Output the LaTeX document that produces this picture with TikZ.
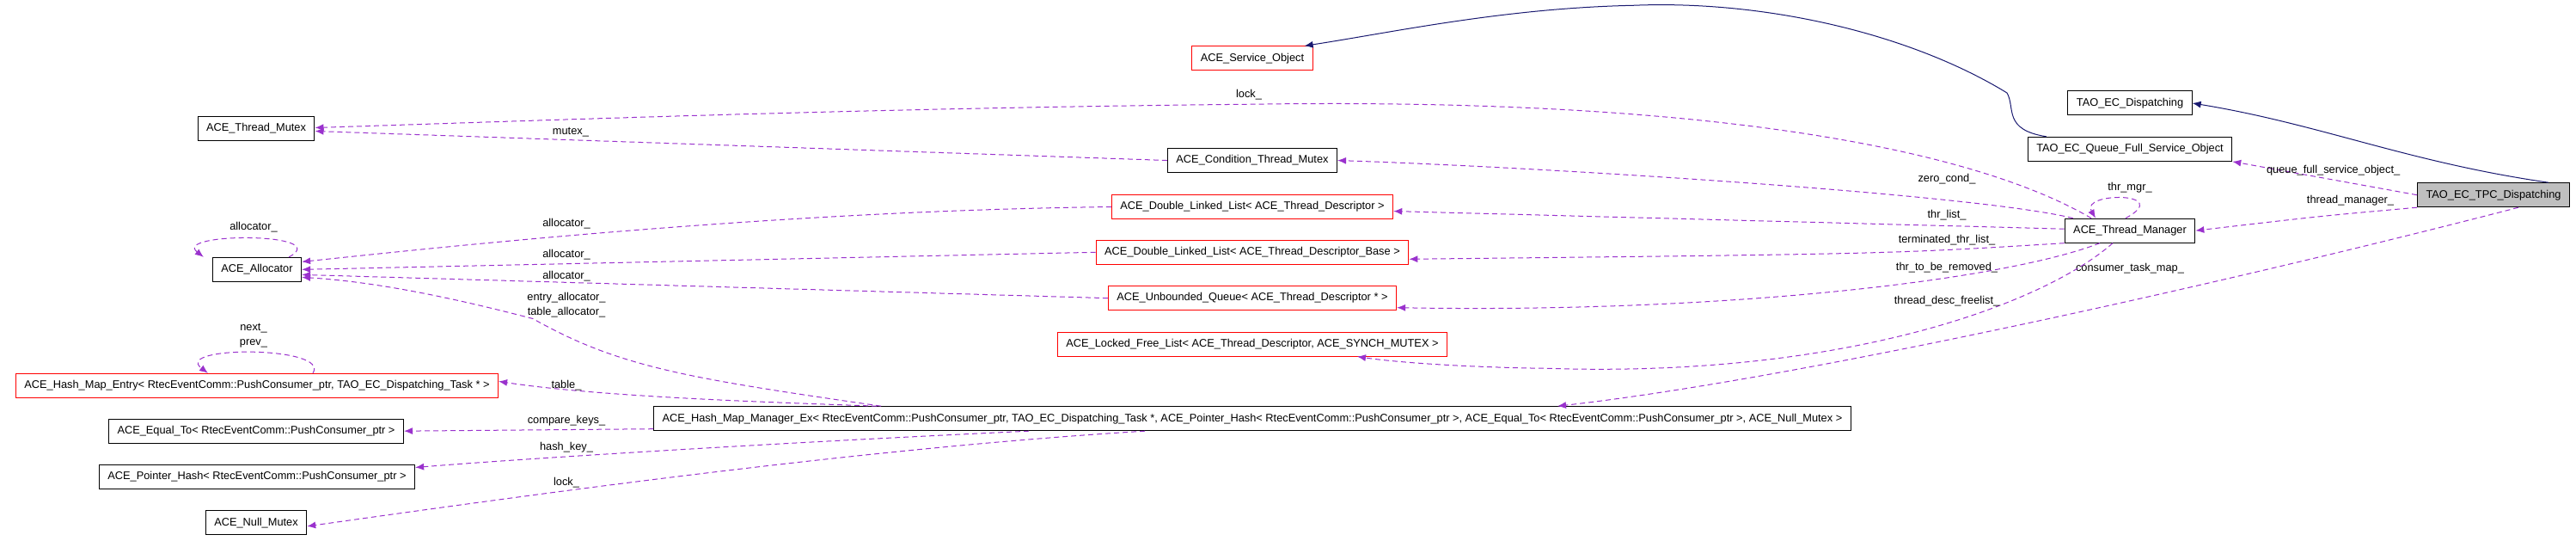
\documentclass[tikz,border=0pt]{standalone}
\usepackage{fontspec}
\setmainfont{Liberation Sans}
\usetikzlibrary{arrows.meta}
\definecolor{pur}{HTML}{9A32CD}
\definecolor{nav}{HTML}{191970}
\tikzset{
 cls/.style={draw=black,line width=1pt,minimum height=28pt,inner xsep=10pt,inner ysep=0pt,font=\fontsize{12.8}{14}\selectfont,fill=white},
 redc/.style={cls,draw=red},
 use/.style={draw=pur,line width=1pt,dash pattern=on 6pt off 4pt,-{Latex[length=10pt,width=8pt]}},
 inh/.style={draw=nav,line width=1pt,-{Latex[length=10pt,width=8pt]}},
 lab/.style={font=\fontsize{12.8}{14}\selectfont,inner sep=0pt}
}
\begin{document}
\begin{tikzpicture}[x=1pt,y=-0.628pt]
\useasboundingbox (0,0) rectangle (2997,1000);
% nodes
\node[cls] (tm) at (298,238) {ACE\_Thread\_Mutex};
\node[cls] (al) at (299,499) {ACE\_Allocator};
\node[redc] (hme) at (299,714) {ACE\_Hash\_Map\_Entry< RtecEventComm::PushConsumer\_ptr, TAO\_EC\_Dispatching\_Task * >};
\node[cls] (eq) at (298,798) {ACE\_Equal\_To< RtecEventComm::PushConsumer\_ptr >};
\node[cls] (ph) at (299,883) {ACE\_Pointer\_Hash< RtecEventComm::PushConsumer\_ptr >};
\node[cls] (nm) at (298,968) {ACE\_Null\_Mutex};
\node[cls] (hmm) at (1457,775) {ACE\_Hash\_Map\_Manager\_Ex< RtecEventComm::PushConsumer\_ptr, TAO\_EC\_Dispatching\_Task *, ACE\_Pointer\_Hash< RtecEventComm::PushConsumer\_ptr >, ACE\_Equal\_To< RtecEventComm::PushConsumer\_ptr >, ACE\_Null\_Mutex >};
\node[redc] (so) at (1457,108) {ACE\_Service\_Object};
\node[cls] (ctm) at (1457,297) {ACE\_Condition\_Thread\_Mutex};
\node[redc] (dl1) at (1457,383) {ACE\_Double\_Linked\_List< ACE\_Thread\_Descriptor >};
\node[redc] (dl2) at (1457,467) {ACE\_Double\_Linked\_List< ACE\_Thread\_Descriptor\_Base >};
\node[redc] (uq) at (1457,552) {ACE\_Unbounded\_Queue< ACE\_Thread\_Descriptor * >};
\node[redc] (lfl) at (1457,637) {ACE\_Locked\_Free\_List< ACE\_Thread\_Descriptor, ACE\_SYNCH\_MUTEX >};
\node[cls] (ed) at (2478,191) {TAO\_EC\_Dispatching};
\node[cls] (qf) at (2478,276) {TAO\_EC\_Queue\_Full\_Service\_Object};
\node[cls] (thm) at (2478,427) {ACE\_Thread\_Manager};
\node[cls,fill=black!25] (tpc) at (2901,361) {TAO\_EC\_TPC\_Dispatching};
% inheritance
\draw[inh] ([xshift=-25pt]tpc.north east) .. controls (2800,300) and (2700,230) .. (ed.east);
\draw[inh] ([xshift=22pt]qf.north west) .. controls (2330,240) and (2345,200) .. (2335,172) .. controls (2220,60) and (2050,0) .. (1900,10) .. controls (1750,15) and (1620,60) .. ([xshift=-10pt]so.north east);
% uses
\draw[use] (tpc.west) -- (qf.south east) node[pos=0.5,lab,above=3pt,xshift=10pt] {queue\_full\_service\_object\_};
\draw[use] (tpc.south west) .. controls (2700,400) .. (thm.east) node[pos=0.3,lab,above=9pt] {thread\_manager\_};
\draw[use] ([xshift=-60pt]tpc.south east) .. controls (2600,520) and (2100,700) .. ([xshift=355pt]hmm.north);
\node[lab] at (2478,497) {consumer\_task\_map\_};
\draw[use] ([xshift=-45pt]thm.north) .. controls (2300,280) and (2000,180) .. (1457,193) .. controls (1000,200) and (600,225) .. ([yshift=1pt]tm.east);
\node[lab] at (1453,175) {lock\_};
\draw[use] (ctm.west) -- ([yshift=-3pt]tm.east) node[pos=0.7,lab,above=3pt] {mutex\_};
\draw[use] ([xshift=10pt]thm.north west) .. controls (2300,360) and (1800,310) .. (ctm.east);
\node[lab] at (2265,332) {zero\_cond\_};
\draw[use] ([yshift=2pt]thm.west) -- ([yshift=-5pt]dl1.east);
\node[lab] at (2265,398) {thr\_list\_};
\draw[use] (thm.south west) .. controls (2200,470) .. ([yshift=-8pt]dl2.east);
\node[lab] at (2265,444) {terminated\_thr\_list\_};
\draw[use] ([xshift=-35pt]thm.south) .. controls (2330,520) and (2000,580) .. ([yshift=-11pt]uq.east);
\node[lab] at (2265,495) {thr\_to\_be\_removed\_};
\draw[use] ([xshift=-20pt]thm.south) .. controls (2380,560) and (2150,700) .. (1800,682) .. controls (1700,680) and (1620,670) .. ([xshift=122pt]lfl.south);
\node[lab] at (2265,558) {thread\_desc\_freelist\_};
\draw[use] ([xshift=-5pt]thm.north) .. controls (2530,355) and (2420,355) .. ([xshift=-40pt]thm.north);
\node[lab] at (2478,348) {thr\_mgr\_};
\draw[use] (dl1.west) .. controls (900,390) and (500,460) .. ([yshift=9pt]al.east);
\draw[use] (dl2.west) -- (al.east);
\draw[use] (uq.west) -- ([yshift=-6pt]al.east);
\node[lab] at (659,415) {allocator\_};
\node[lab] at (659,472) {allocator\_};
\node[lab] at (659,511) {allocator\_};
\draw[use] ([xshift=265pt]hmm.north west) .. controls (800,700) and (720,680) .. (620,590) .. controls (500,540) and (420,520) .. ([yshift=-9pt]al.east);
\node[lab] at (659,551) {entry\_allocator\_};
\node[lab] at (659,579) {table\_allocator\_};
\draw[use] ([xshift=-15pt]al.north east) .. controls (390,430) and (200,430) .. ([xshift=-10pt]al.north west);
\node[lab] at (295,421) {allocator\_};
\draw[use] ([xshift=260pt]hmm.north west) .. controls (900,745) and (700,735) .. ([yshift=5pt]hme.east);
\node[lab] at (659,713) {table\_};
\draw[use] ([xshift=65pt]hme.north) .. controls (385,640) and (200,640) .. ([xshift=-57pt]hme.north);
\node[lab] at (295,608) {next\_};
\node[lab] at (295,636) {prev\_};
\draw[use] ([yshift=-12pt]hmm.west) -- (eq.east);
\node[lab] at (659,779) {compare\_keys\_};
\draw[use] ([xshift=-260pt]hmm.south) .. controls (900,820) and (600,850) .. ([yshift=11pt]ph.east);
\node[lab] at (659,829) {hash\_key\_};
\draw[use] ([xshift=-125pt]hmm.south) .. controls (1000,830) and (600,920) .. ([yshift=-4pt]nm.east);
\node[lab] at (659,893) {lock\_};
\end{tikzpicture}
\end{document}
